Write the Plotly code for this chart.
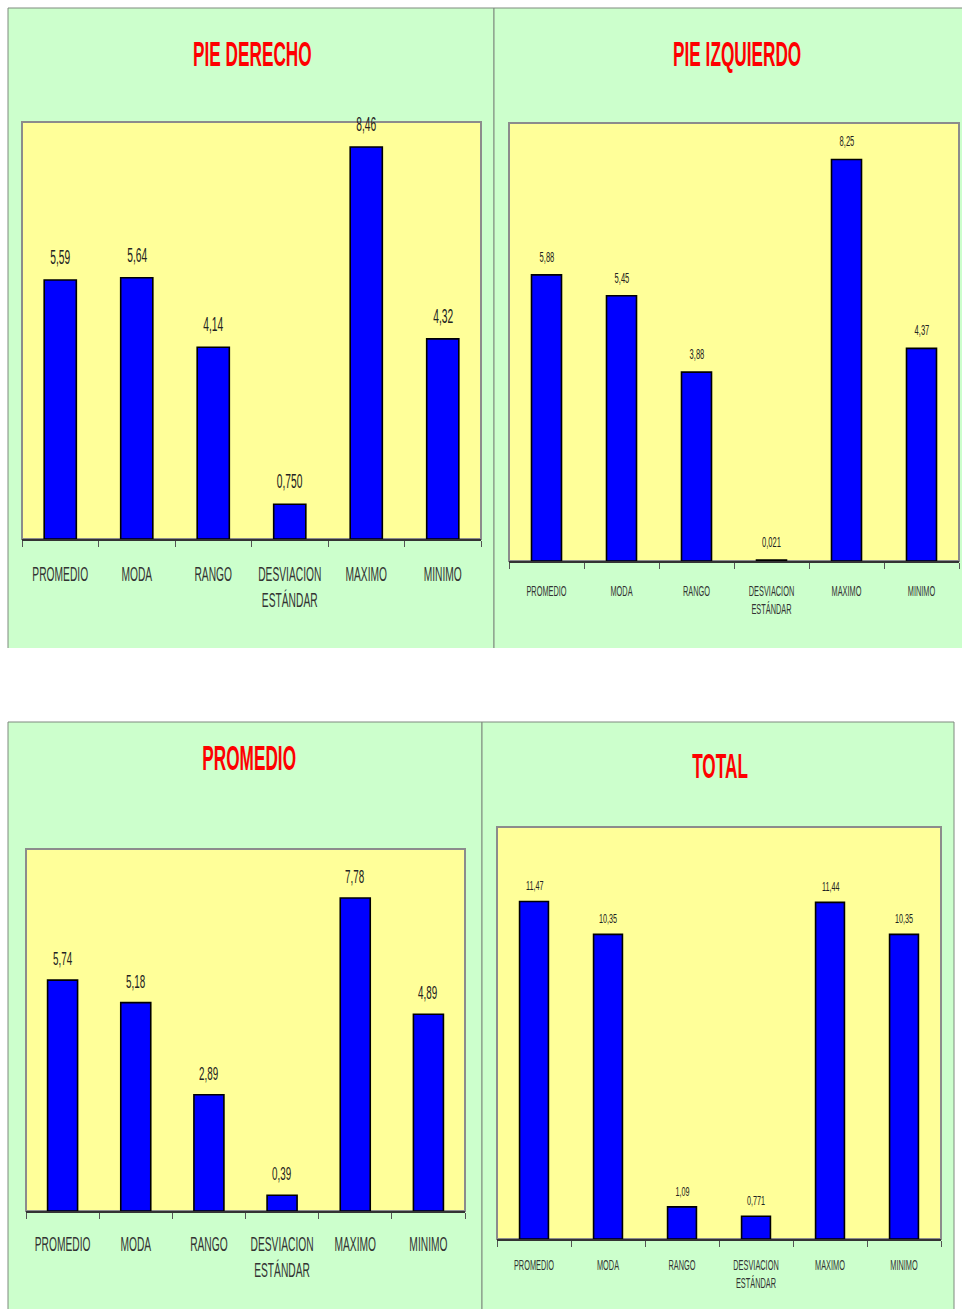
import plotly.graph_objects as go

W, H = 962, 1309

# Datos de las cuatro gráficas
categorias = ["PROMEDIO", "MODA", "RANGO", "DESVIACION<br>ESTÁNDAR", "MAXIMO", "MINIMO"]

pie_derecho = ["5,59", "5,64", "4,14", "0,750", "8,46", "4,32"]
pie_izquierdo = ["5,88", "5,45", "3,88", "0,021", "8,25", "4,37"]
promedio = ["5,74", "5,18", "2,89", "0,39", "7,78", "4,89"]
total = ["11,47", "10,35", "1,09", "0,771", "11,44", "10,35"]

titulos = ["PIE DERECHO", "PIE IZQUIERDO", "PROMEDIO", "TOTAL"]
series = [pie_derecho, pie_izquierdo, promedio, total]
maximo_eje = [9, 9, 9, 14]

# Geometría de cada panel en píxeles (x0, y0, x1, y1)
paneles = [
    dict(fondo=(8, 8, 494, 648), area=(22, 122, 481, 539), titulo=(252, 53.5),
         fs_tick=12.5, fs_dato=12.5, ancho=0.42, desfase=22, standoff=23),
    dict(fondo=(494, 8, 980, 648), area=(509, 123, 959, 561), titulo=(737, 53.5),
         fs_tick=9, fs_dato=9.2, ancho=0.40, desfase=18, standoff=20),
    dict(fondo=(8, 722, 482, 1320), area=(26, 849, 465, 1211), titulo=(249, 758),
         fs_tick=12.5, fs_dato=12, ancho=0.41, desfase=21, standoff=21),
    dict(fondo=(482, 722, 954, 1320), area=(497, 827, 941, 1239), titulo=(719.5, 765),
         fs_tick=9, fs_dato=8.8, ancho=0.39, desfase=16, standoff=16),
]

FUENTE = "Liberation Sans, Arial, sans-serif"
VERDE = "#CCFFCC"
AMARILLO = "#FFFF99"
AZUL = "#0000FF"


def fx(px):
    return px / W


def fy(py):
    return 1 - py / H


def numero(texto):
    return float(texto.replace(",", "."))


fig = go.Figure()
shapes = []
annotations = []
layout_ejes = {}

for i, (titulo, serie, ymax, p) in enumerate(zip(titulos, series, maximo_eje, paneles)):
    n = "" if i == 0 else str(i + 1)
    valores = [numero(v) for v in serie]

    # Fondo verde del panel, con borde arriba y a los lados
    fx0, fy0, fx1, fy1 = p["fondo"]
    shapes.append(dict(type="rect", xref="paper", yref="paper", layer="below",
                       x0=fx(fx0), x1=fx(fx1), y0=fy(fy1), y1=fy(fy0),
                       fillcolor=VERDE, line=dict(width=0)))
    shapes.append(dict(type="path", xref="paper", yref="paper", layer="below",
                       path=f"M {fx(fx0)},{fy(fy1)} L {fx(fx0)},{fy(fy0)} "
                            f"L {fx(fx1)},{fy(fy0)} L {fx(fx1)},{fy(fy1)}",
                       line=dict(color="#7f8a7f", width=1)))
    # Área de trazado amarilla
    ax0, ay0, ax1, ay1 = p["area"]
    shapes.append(dict(type="rect", xref="paper", yref="paper", layer="below",
                       x0=fx(ax0), x1=fx(ax1), y0=fy(ay1), y1=fy(ay0),
                       fillcolor=AMARILLO, line=dict(color="#8c8c8c", width=2)))

    fig.add_trace(go.Bar(
        x=categorias, y=valores, xaxis="x" + n, yaxis="y" + n,
        width=p["ancho"], marker=dict(color=AZUL, line=dict(color="#000000", width=1.6)),
        showlegend=False, hoverinfo="skip",
    ))

    layout_ejes["xaxis" + n] = dict(
        domain=[fx(ax0), fx(ax1)], anchor="y" + n, type="category",
        showline=True, linecolor="#333333", linewidth=2,
        ticks="outside", tickson="boundaries", ticklen=6, tickcolor="#555555", tickwidth=1,
        tickangle=0, ticklabelstandoff=p["standoff"],
        tickfont=dict(family=FUENTE, size=p["fs_tick"], color="#333333"),
        showgrid=False, zeroline=False, fixedrange=True,
    )
    layout_ejes["yaxis" + n] = dict(
        domain=[fy(ay1), fy(ay0)], anchor="x" + n, range=[0, ymax],
        visible=False, showgrid=False, zeroline=False, fixedrange=True,
    )

    # Etiquetas de valor sobre cada barra
    for c, v, t in zip(categorias, valores, serie):
        annotations.append(dict(
            x=c, y=v, xref="x" + n, yref="y" + n, text=t, showarrow=False,
            yanchor="middle", yshift=p["desfase"],
            font=dict(family=FUENTE, size=p["fs_dato"], color="#222222"),
        ))

    tx, ty = p["titulo"]
    annotations.append(dict(
        x=fx(tx), y=fy(ty), xref="paper", yref="paper", text=titulo, showarrow=False,
        xanchor="center", yanchor="middle",
        font=dict(family=FUENTE, size=21, color="#FF0000", weight="bold"),
    ))

fig.update_layout(
    width=W, height=H, margin=dict(l=0, r=0, t=0, b=0),
    paper_bgcolor="#FFFFFF", plot_bgcolor="rgba(0,0,0,0)",
    shapes=shapes, annotations=annotations, bargap=0.5,
    **layout_ejes,
)

# Letras estrechas y alargadas, al estilo de los gráficos de hoja de cálculo
estirar = """
var gd = document.getElementById('{plot_id}');
gd.querySelectorAll('svg text').forEach(function(t){
  if (t.getAttribute('data-estirado')) return;
  var fs = parseFloat(t.style.fontSize) || 12;
  var sy = fs >= 18 ? 1.7 : 1.55;
  var sx = 0.82;
  var ya = t.getAttribute('y');
  var xa = t.getAttribute('x');
  var b = t.getBBox();
  var cy = (ya !== null && ya !== '') ? parseFloat(ya) - 0.35 * fs : b.y + b.height / 2;
  var cx = (xa !== null && xa !== '') ? parseFloat(xa) : b.x + b.width / 2;
  var tr = t.getAttribute('transform') || '';
  t.setAttribute('transform', tr + ' translate(' + cx + ',' + cy + ') scale(' + sx + ',' + sy + ') translate(' + (-cx) + ',' + (-cy) + ')');
  t.setAttribute('data-estirado', '1');
});
"""

fig.write_html("out.html", config={"displayModeBar": False}, post_script=estirar)
